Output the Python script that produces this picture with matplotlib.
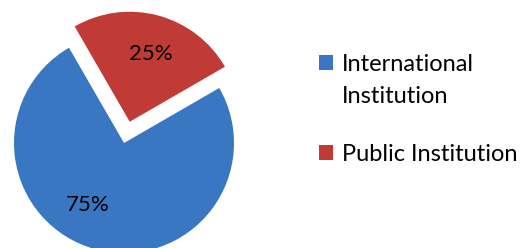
import matplotlib.pyplot as plt
from matplotlib.patches import Rectangle

#data
labels = ['International\nInstitution', 'Public Institution']
shares = [75, 25]
pct_text = ['75%', '25%']
colors = ['#3A77C2', '#C13B36']

plt.rcParams['font.family'] = ['Lato', 'DejaVu Sans']

W, H = 524, 248
fig = plt.figure(figsize=(W / 100, H / 100), dpi=100)
ax = fig.add_axes([0, 0, 1, 1])

#pie, red slice pulled out
wedges, texts = ax.pie(shares, colors=colors, startangle=120, explode=[0, 0.2],
                       radius=1.0, wedgeprops={'linewidth': 0})

#percentage labels
ax.text(-0.33, -0.56, pct_text[0], fontsize=16, ha='center', va='center')
ax.text(0.24, 0.81, pct_text[1], fontsize=16, ha='center', va='center')

#center at (124, 105) px, radius 110 px
r = 110
ax.set_xlim(-124 / r, (W - 124) / r)
ax.set_ylim(-105 / r, (H - 105) / r)
ax.axis('off')

#legend drawn by hand so the square sits on the first text line
box_top = [55, 145]
for lab, col, top in zip(labels, colors, box_top):
    fig.patches.append(Rectangle((319 / W, 1 - (top + 15) / H), 14 / W, 15 / H,
                                 transform=fig.transFigure, facecolor=col,
                                 edgecolor='none'))
    fig.text(342 / W, 1 - (top - 1) / H, lab, fontsize=17, ha='left', va='top',
             linespacing=1.65)

fig.savefig('out.png', dpi=100)
